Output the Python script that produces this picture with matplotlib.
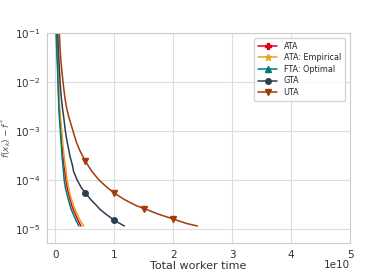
import numpy as np
import matplotlib
matplotlib.use("Agg")
import matplotlib.pyplot as plt
import seaborn as sns

# f(x_k) - f* levels shared by the three fast curves
f_levels = [1e-1, 5e-2, 3e-2, 2e-2, 1e-2, 5e-3, 3e-3, 2e-3, 1e-3, 6e-4, 4e-4, 3e-4,
            2e-4, 1.5e-4, 1e-4, 7e-5, 5e-5, 4e-5, 3e-5, 2.5e-5, 2e-5, 1.5e-5, 1.15e-5]
# total worker time (x 1e10) at which each curve reaches those levels
t_fta = [0.015, 0.022, 0.03, 0.036, 0.045, 0.053, 0.06, 0.068, 0.085, 0.097, 0.108, 0.115,
         0.128, 0.138, 0.15, 0.17, 0.20, 0.22, 0.25, 0.27, 0.305, 0.35, 0.40]
t_ata = [0.02, 0.027, 0.035, 0.042, 0.05, 0.058, 0.065, 0.074, 0.095, 0.108, 0.12, 0.13,
         0.145, 0.16, 0.18, 0.20, 0.23, 0.25, 0.28, 0.305, 0.34, 0.385, 0.435]
t_ata_emp = [0.025, 0.032, 0.04, 0.047, 0.055, 0.064, 0.075, 0.085, 0.11, 0.124, 0.138, 0.15,
             0.168, 0.183, 0.20, 0.225, 0.25, 0.275, 0.31, 0.335, 0.37, 0.42, 0.48]

# GTA
t_gta = [0.04, 0.05, 0.06, 0.068, 0.08, 0.10, 0.12, 0.14, 0.17, 0.20, 0.23, 0.25,
         0.29, 0.31, 0.37, 0.44, 0.51, 0.60, 0.70, 0.76, 0.86, 1.0, 1.17]
f_gta = [1e-1, 5e-2, 3e-2, 2e-2, 1e-2, 5e-3, 3e-3, 2e-3, 1e-3, 6e-4, 4e-4, 3e-4,
         2e-4, 1.5e-4, 1e-4, 7e-5, 5.4e-5, 4e-5, 3e-5, 2.5e-5, 2e-5, 1.5e-5, 1.15e-5]

# UTA
t_uta = [0.068, 0.08, 0.092, 0.105, 0.13, 0.16, 0.19, 0.225, 0.30, 0.355, 0.415, 0.51,
         0.62, 0.74, 0.88, 1.0, 1.17, 1.37, 1.51, 1.75, 2.0, 2.22, 2.41]
f_uta = [1e-1, 5e-2, 3e-2, 2e-2, 1e-2, 5e-3, 3e-3, 2e-3, 1e-3, 6e-4, 4e-4, 2.4e-4,
         1.5e-4, 1e-4, 7e-5, 5.4e-5, 4e-5, 3e-5, 2.6e-5, 2e-5, 1.6e-5, 1.3e-5, 1.15e-5]

sns.set_style("whitegrid")

fig = plt.figure(figsize=(3.89, 2.72), dpi=100)
ax = fig.add_axes([0.121, 0.107, 0.779, 0.772])

scale = 1e10
ax.plot(np.array(t_ata) * scale, f_levels, color="#e0001b", marker="P", markersize=5,
        markevery=(100, 100), lw=1.1, label="ATA")
ax.plot(np.array(t_ata_emp) * scale, f_levels, color="#e3a31f", marker="*", markersize=5,
        markevery=(100, 100), lw=1.1, label="ATA: Empirical")
ax.plot(np.array(t_fta) * scale, f_levels, color="#007a78", marker="^", markersize=4.5,
        markevery=(100, 100), lw=1.1, label="FTA: Optimal")
ax.plot(np.array(t_gta) * scale, f_gta, color="#2f3e4e", marker="o", markersize=4,
        markevery=[16, 21], lw=1.1, label="GTA")
ax.plot(np.array(t_uta) * scale, f_uta, color="#a33a0c", marker="v", markersize=4.5,
        markevery=[11, 15, 18, 20], lw=1.1, label="UTA")

ax.set_yscale("log")
ax.set_ylim(5.2e-6, 1e-1)
ax.set_xlim(-0.14e10, 5e10)
ax.set_xticks(np.arange(0, 6) * scale)
ax.set_yticks([1e-5, 1e-4, 1e-3, 1e-2, 1e-1])
ax.minorticks_off()
ax.tick_params(labelsize=7.5, colors="#333333", pad=1.5)
ax.xaxis.get_offset_text().set_visible(False)
fig.text(350 / 389, 1 - 265 / 272, "1e10", ha="right", va="center",
         fontsize=7.5, color="#333333")
ax.grid(color="#dddddd")

ax.set_xlabel("Total worker time", fontsize=8, color="#333333", labelpad=1)
ax.set_ylabel(r"$f(x_k) - f^*$", fontsize=6.5, color="#555555", labelpad=1)

ax.legend(loc="upper right", fontsize=5.8, frameon=True, handlelength=2.4,
          borderpad=0.45, labelspacing=0.32, bbox_to_anchor=(0.995, 0.995))

fig.savefig("out.png", dpi=100)
